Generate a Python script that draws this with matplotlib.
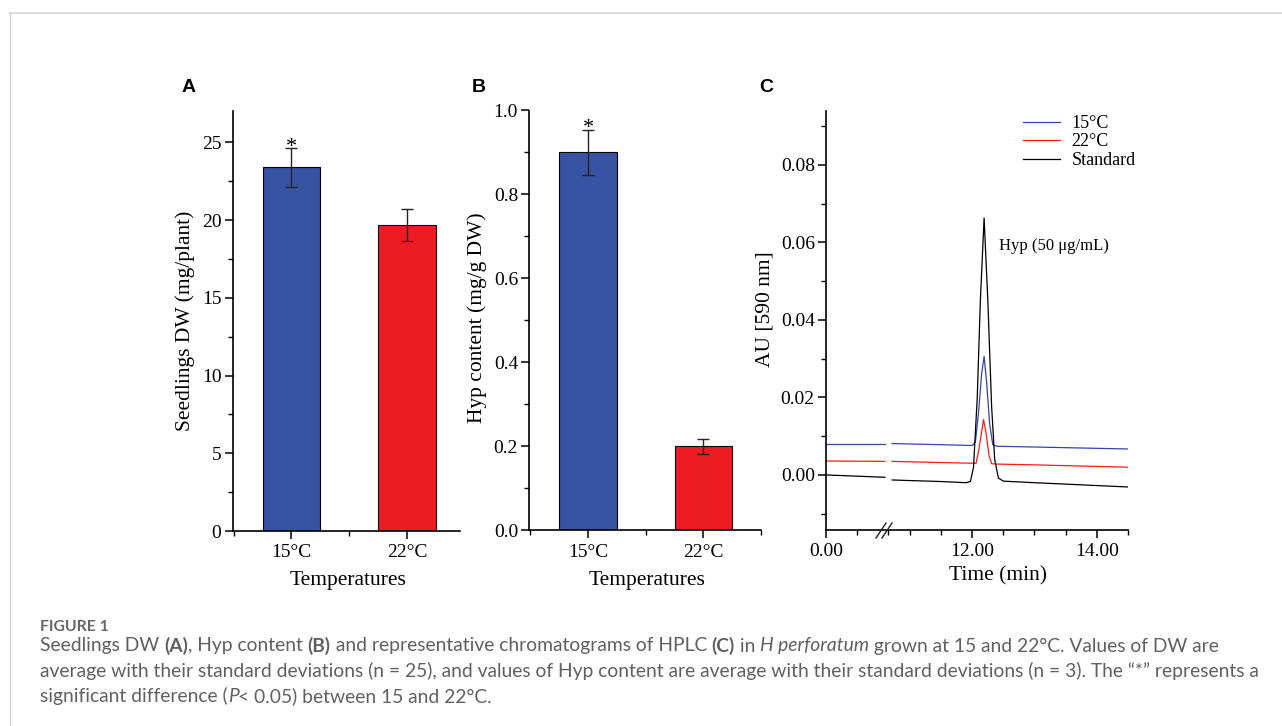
import matplotlib
matplotlib.use('Agg')
import matplotlib.pyplot as plt
from matplotlib.lines import Line2D
from matplotlib.ticker import MultipleLocator, FormatStrFormatter

W, H = 1282, 726

# --- data ---
temps = ['15°C', '22°C']
dw_mean = [23.4, 19.7]
dw_sd = [1.25, 1.03]
hyp_mean = [0.90, 0.20]
hyp_sd = [0.053, 0.017]
bar_colors = ['#3953a4', '#ed1c24']

# chromatograms, time (min) / absorbance (AU); left part before the axis break
t_left = [0.0, 0.945]
blue_left = [0.0080, 0.0080]
red_left = [0.0036, 0.0035]
black_left = [0.0000, -0.0006]

t_blue = [10.71, 11.5, 12.0, 12.05, 12.10, 12.15, 12.19, 12.23, 12.28, 12.33, 12.40, 13.0, 14.5]
blue = [0.0081, 0.0078, 0.0076, 0.0085, 0.0160, 0.0260, 0.0306, 0.0240, 0.0130, 0.0078, 0.0074, 0.0072, 0.0067]

t_red = [10.71, 11.5, 12.06, 12.10, 12.15, 12.18, 12.22, 12.27, 12.31, 12.40, 13.0, 14.5]
red = [0.0035, 0.0032, 0.0030, 0.0060, 0.0110, 0.0143, 0.0110, 0.0050, 0.0029, 0.0028, 0.0026, 0.0020]

t_black = [10.71, 11.5, 11.90, 11.97, 12.02, 12.08, 12.13, 12.19, 12.25, 12.31, 12.36, 12.42, 12.50, 13.0, 14.5]
black = [-0.0013, -0.0017, -0.0020, -0.0017, 0.0020, 0.0200, 0.0450, 0.0663, 0.0450, 0.0180, 0.0040, -0.0008, -0.0016, -0.0020, -0.0031]

trace_names = ['15°C', '22°C', 'Standard']
trace_colors = ['#3344aa', '#ff1a1a', 'black']

plt.rcParams['font.family'] = 'serif'
plt.rcParams['font.serif'] = ['Liberation Serif', 'DejaVu Serif']
plt.rcParams['axes.linewidth'] = 1.2


def box(l, t, r, b):
    return [l / W, 1 - b / H, (r - l) / W, (b - t) / H]


def style(ax):
    ax.spines['top'].set_visible(False)
    ax.spines['right'].set_visible(False)
    ax.tick_params(which='major', direction='out', length=5.5, width=1.1, labelsize=14, pad=2.5)
    ax.tick_params(axis='x', which='major', pad=4)
    ax.tick_params(which='minor', direction='out', length=3.5, width=1.0)


def fig_ylabel(ax, text, x, y):
    ax.set_ylabel(text, fontsize=15.5, va='center', ha='center')
    ax.yaxis.set_label_coords(x / W, 1 - y / H, transform=fig.transFigure)


def fig_xlabel(ax, text, x, y):
    ax.set_xlabel(text, fontsize=15.5, va='center', ha='center')
    ax.xaxis.set_label_coords(x / W, 1 - y / H, transform=fig.transFigure)


fig = plt.figure(figsize=(W / 100, H / 100), dpi=100)

# outer frame of the figure box
fig.add_artist(Line2D([10 / W, 1], [1 - 13 / H] * 2, color='#dddddd', lw=1.4))
fig.add_artist(Line2D([10 / W] * 2, [0, 1 - 13 / H], color='#cccccc', lw=0.9))

pos = [1, 2]

# ---------- A ----------
axA = fig.add_axes(box(232.5, 111.2, 460.2, 531.1))
axA.bar(pos, dw_mean, width=0.5, color=bar_colors, edgecolor='black', linewidth=0.8,
        yerr=dw_sd, capsize=4, error_kw=dict(elinewidth=1.0, capthick=1.0, ecolor='#222222'))
axA.set_xlim(0.49, 2.46)
axA.set_ylim(0, 27)
axA.set_xticks(pos)
axA.set_xticklabels(temps)
axA.xaxis.set_minor_locator(MultipleLocator(1.0, offset=0.5))
axA.yaxis.set_major_locator(MultipleLocator(5))
axA.yaxis.set_minor_locator(MultipleLocator(2.5))
style(axA)
# asterisk baseline sits just under the error bar cap, the glyph itself rides above it
axA.text(pos[0], dw_mean[0] + dw_sd[0] - 0.25, '*', ha='center', va='baseline', fontsize=16)
fig_ylabel(axA, 'Seedlings DW (mg/plant)', 185.3, 321)
fig_xlabel(axA, 'Temperatures', 348, 581)

# ---------- B ----------
axB = fig.add_axes(box(529.2, 110.5, 761.2, 530.4))
axB.bar(pos, hyp_mean, width=0.5, color=bar_colors, edgecolor='black', linewidth=0.8,
        yerr=hyp_sd, capsize=4, error_kw=dict(elinewidth=1.0, capthick=1.0, ecolor='#222222'))
axB.set_xlim(0.49, 2.5)
axB.set_ylim(0, 1.0)
axB.set_xticks(pos)
axB.set_xticklabels(temps)
axB.xaxis.set_minor_locator(MultipleLocator(1.0, offset=0.5))
axB.yaxis.set_major_locator(MultipleLocator(0.2))
axB.yaxis.set_minor_locator(MultipleLocator(0.1))
axB.yaxis.set_major_formatter(FormatStrFormatter('%.1f'))
style(axB)
axB.text(pos[0], hyp_mean[0] + hyp_sd[0] - 0.007, '*', ha='center', va='baseline', fontsize=16)
fig_ylabel(axB, 'Hyp content (mg/g DW)', 477, 318)
fig_xlabel(axB, 'Temperatures', 647, 581)

# ---------- C (broken time axis) ----------
ylo, yhi = -0.0142, 0.094
axC1 = fig.add_axes(box(825.9, 110.5, 888.3, 530))
axC2 = fig.add_axes(box(888.3, 110.5, 1127.8, 530))
for ys, col in zip([blue_left, red_left, black_left], trace_colors):
    axC1.plot(t_left, ys, color=col, lw=0.9)
for ts, ys, col, name in zip([t_blue, t_red, t_black], [blue, red, black], trace_colors, trace_names):
    axC2.plot(ts, ys, color=col, lw=0.9, label=name)

axC1.set_xlim(0, 1.0)
axC2.set_xlim(10.65, 14.5)
for ax in (axC1, axC2):
    ax.set_ylim(ylo, yhi)
    style(ax)
axC1.set_xticks([0])
axC1.xaxis.set_major_formatter(FormatStrFormatter('%.2f'))
axC1.xaxis.set_minor_locator(MultipleLocator(0.5))
axC1.yaxis.set_major_locator(MultipleLocator(0.02))
axC1.yaxis.set_minor_locator(MultipleLocator(0.01))
axC1.yaxis.set_major_formatter(FormatStrFormatter('%.2f'))
axC2.spines['left'].set_visible(False)
axC2.tick_params(axis='y', which='both', left=False, labelleft=False)
axC2.set_xticks([12, 14])
axC2.xaxis.set_major_formatter(FormatStrFormatter('%.2f'))
axC2.xaxis.set_minor_locator(MultipleLocator(0.5))

# break marks on the time axis
for dx in (-3, 3):
    fig.add_artist(Line2D([(884 + dx - 5) / W, (884 + dx + 5) / W],
                          [1 - 538 / H, 1 - 523 / H], color='#222222', lw=1.0))

axC2.text(12.43, 0.0591, 'Hyp (50 μg/mL)', fontsize=12, va='center', ha='left')
axC2.legend(loc='upper left', bbox_to_anchor=(1023 / W, 1 - 115 / H),
            bbox_transform=fig.transFigure, frameon=False, fontsize=13,
            handlelength=2.05, handletextpad=0.65, labelspacing=0.08,
            borderpad=0, borderaxespad=0)
fig_ylabel(axC1, 'AU [590 nm]', 765, 309.5)
fig_xlabel(axC2, 'Time (min)', 998, 576)

# panel letters
for letter, x in zip('ABC', [188.7, 478.5, 766]):
    fig.text(x / W, 1 - 88 / H, letter, family='Liberation Sans', weight='bold',
             fontsize=14, ha='center', va='center')

# ---------- caption ----------
cap_color = '#606060'
cap_font = 'Lato'
renderer = fig.canvas.get_renderer()

line1 = [('Seedlings DW ', {}), ('(A)', {'weight': 'bold'}), (', Hyp content ', {}),
         ('(B)', {'weight': 'bold'}), (' and representative chromatograms of HPLC ', {}),
         ('(C)', {'weight': 'bold'}), (' in ', {}), ('H perforatum', {'style': 'italic'}),
         (' grown at 15 and 22°C. Values of DW are', {})]
line2 = [('average with their standard deviations (n = 25), and values of Hyp content are '
          'average with their standard deviations (n = 3). The \u201c*\u201d represents a', {})]
line3 = [('significant difference (', {}), ('P', {'style': 'italic'}),
         ('< 0.05) between 15 and 22°C.', {})]

# size the caption so that the second line spans the same width as in the original
probe = fig.text(0, 0, line2[0][0], family=cap_font, fontsize=10)
w10 = probe.get_window_extent(renderer).width
probe.remove()
cap_size = 10 * 1221 / w10


def draw_runs(x, y, runs):
    for txt, kw in runs:
        t = fig.text(x / W, 1 - y / H, txt, family=cap_font, fontsize=cap_size,
                     color=cap_color, ha='left', va='center', **kw)
        x = t.get_window_extent(renderer).x1


fig.text(40 / W, 1 - 627 / H, 'FIGURE 1', family=cap_font, weight='bold',
         fontsize=cap_size * 0.82, color='#666666', ha='left', va='center')
draw_runs(40, 646, line1)
draw_runs(40, 671, line2)
draw_runs(40, 696, line3)

fig.savefig('out.png', dpi=100)
